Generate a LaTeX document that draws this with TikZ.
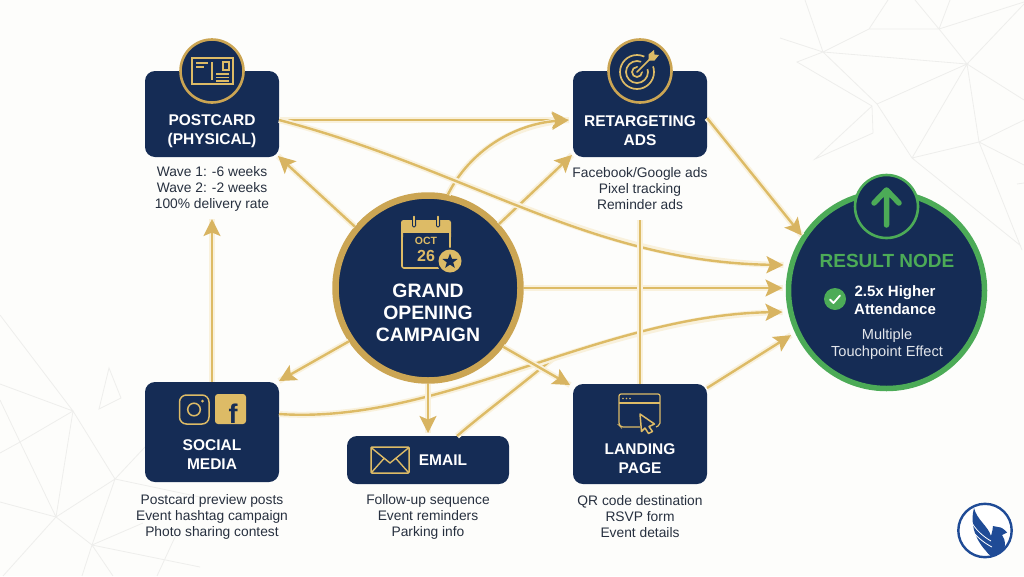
\documentclass[tikz,border=0pt]{standalone}
\usepackage{fontspec}
\setmainfont{Liberation Sans}
\usetikzlibrary{arrows.meta,calc}
\definecolor{navy}{HTML}{152C55}
\definecolor{gold}{HTML}{DDBB66}
\definecolor{goldh}{HTML}{D8B461}
\definecolor{goldd}{HTML}{CBA553}
\definecolor{glow}{HTML}{F9F1DC}
\definecolor{rgreen}{HTML}{4CAB57}
\definecolor{ink}{HTML}{27303F}
\definecolor{mesh}{HTML}{EEEEEC}
\definecolor{paper}{HTML}{FDFDFB}
\definecolor{logob}{HTML}{1F4B96}
\tikzset{
  x=1pt,y=-1pt,
  card/.style={draw=none,fill=navy,rounded corners=10pt,inner sep=0pt,outer sep=0pt},
  iconring/.style={circle,draw=goldd,line width=2.6pt,fill=navy,minimum size=63pt,inner sep=0pt},
  ttl/.style={text=white,font=\fontsize{15.5}{19}\selectfont\bfseries,align=center,inner sep=0pt},
  sub/.style={text=ink,font=\fontsize{13.8}{16}\selectfont,align=center,inner sep=0pt},
  flow/.style={draw=gold,line width=2.4pt,
     preaction={draw=glow,line width=6pt,arrows={-}},
     -{Stealth[length=17pt,width=17pt,inset=3.5pt,color=goldh]}},
  plain/.style={draw=gold,line width=2.4pt,preaction={draw=glow,line width=6pt}},
  meshl/.style={draw=mesh,line width=0.8pt},
  ic/.style={draw=gold,line width=1.2pt,fill=none},
}
\begin{document}
\begin{tikzpicture}
\useasboundingbox (0,0) rectangle (1024,576);
\fill[paper] (0,0) rectangle (1024,576);
% background mesh, top right
\draw[meshl] (805,0)--(823,52)--(869,29)--(888,0) (869,29)--(939,29)--(915,0) (939,29)--(950,0) (939,29)--(1024,2)
 (939,29)--(967,64)--(1024,4) (780,38)--(823,52)--(967,64)--(877,104)--(823,52)--(797,62)--(872,106)--(873,133)--(815,159)--(872,106)
 (877,104)--(912,158)--(967,64)--(979,142)--(912,158) (967,64)--(1024,100) (979,142)--(1024,120) (979,142)--(1024,165)
 (979,142)--(1022,250) (912,158)--(1021,246) (1017,184)--(1024,183);
% background mesh, lower left
\draw[meshl] (0,315)--(73,411)--(115,479)--(56,517)--(73,411)--(20,442)--(56,517)--(92,545)--(115,479)--(145,447)
 (0,384)--(73,411) (20,442)--(0,453) (0,400)--(20,442) (0,502)--(56,517)--(3,576) (92,545)--(82,576) (92,545)--(113,576)
 (115,479)--(200,497) (92,545)--(200,567) (92,545)--(143,523) (157,576)--(175,537)
 (109,368)--(121,398)--(99,409)--cycle;
% nodes
\node[card,minimum width=134pt,minimum height=86pt] (post) at (212,114) {};
\node[card,minimum width=134pt,minimum height=86pt] (ret) at (640,114) {};
\node[card,minimum width=134pt,minimum height=100pt] (soc) at (212,432) {};
\node[card,minimum width=162pt,minimum height=48pt] (mail) at (428,460) {};
\node[card,minimum width=134pt,minimum height=100pt] (land) at (640,434) {};
\node[circle,fill=navy,draw=goldd,line width=6.5pt,minimum size=185pt,inner sep=0pt,outer sep=3pt] (hub) at (428,288) {};
\node[circle,fill=navy,draw=rgreen,line width=5.5pt,minimum size=196pt,inner sep=0pt,outer sep=3pt] (res) at (886.5,290.5) {};
\node[iconring] (posticon) at (212,71) {};
\node[iconring] (reticon) at (640,71) {};
\node[circle,fill=navy,draw=rgreen,line width=2.6pt,minimum size=63pt,inner sep=0pt] (upicon) at (886.5,206.5) {};
% connectors
\draw[flow] (hub.140) -- ($(post.south east)+(-1,-1)$);
\draw[flow] (soc.north) -- ($(post.south)+(0,62)$);
\draw[flow] (post.east |- 0,120) -- ($(ret.west |- 0,120)+(-4,0)$);
\draw[flow] (hub.78) .. controls (470,150) and (515,124) .. ($(ret.west |- 0,120)+(-4,0)$);
\draw[flow] (hub.42) -- ($(ret.south west)+(-1,-2)$);
\draw[flow] (post.east |- 0,120) .. controls (470,170) and (590,262) .. ($(res.west |- 0,265)+(-2,0)$);
\draw[flow] (ret.east |- 0,118) -- ($(res.147)+(0,0)$);
\draw[flow] (hub.east) -- ($(res.west |- 0,288)+(-3,0)$);
\path (soc.east |- 0,414) .. controls (440,425) and (600,315) .. ($(res.west |- 0,312)+(-3,0)$) coordinate[pos=.56] (merge);
\draw[plain] (mail.north -| 457,0) .. controls (485,412) and (515,390) .. (merge);
\draw[flow] (soc.east |- 0,414) .. controls (440,425) and (600,315) .. ($(res.west |- 0,312)+(-3,0)$);
\draw[flow] (land.east |- 0,388) -- ($(res.205)+(-4,2)$);
\draw[flow] (hub.-38) -- ($(land.north west)+(-3,1)$);
\draw[flow] (hub.-146) -- ($(soc.north east)+(0,-1)$);
\draw[flow] (hub.south) -- ($(mail.north)+(0,-3)$);
\draw[plain] (land.north) -- ($(ret.south)+(0,63)$);
% texts
\node[ttl] (t1) at (212,131) {POSTCARD\\(PHYSICAL)};
\node[ttl] (t2) at (640,131) {RETARGETING\\ADS};
\node[ttl] (t3) at (212,454.5) {SOCIAL\\MEDIA};
\node[ttl] (t4) at (443,460) {EMAIL};
\node[ttl] (t5) at (640,458.5) {LANDING\\PAGE};
\node[sub] (s1) at (212,189) {Wave 1: -6 weeks\\Wave 2: -2 weeks\\100\% delivery rate};
\node[sub] (s2) at (640,189) {Facebook/Google ads\\Pixel tracking\\Reminder ads};
\node[sub] (s3) at (212,517) {Postcard preview posts\\Event hashtag campaign\\Photo sharing contest};
\node[sub] (s4) at (428,517) {Follow-up sequence\\Event reminders\\Parking info};
\node[sub] (s5) at (640,517) {QR code destination\\RSVP form\\Event details};
\node[text=white,font=\fontsize{19.4}{22}\selectfont\bfseries,align=center,inner sep=0pt] (t6) at (428,313) {GRAND\\OPENING\\CAMPAIGN};
\node[text=rgreen,font=\fontsize{19}{22}\selectfont\bfseries,inner sep=0pt] (t7) at (887,261) {RESULT NODE};
\node[text=white,font=\fontsize{15}{18}\selectfont\bfseries,align=center,inner sep=0pt] (t8) at (895,300) {2.5x Higher\\Attendance};
\node[text=white!88!navy,font=\fontsize{14.6}{17}\selectfont,align=center,inner sep=0pt] (t9) at (887,344.5) {Multiple\\Touchpoint Effect};
% check
\fill[rgreen] (835,299) circle (11);
\draw[white,line width=1.8pt,line cap=round,line join=round] (830,299.5)--(833.5,303)--(840,295.5);
% up arrow
\draw[rgreen,line width=5.5pt,line cap=round,line join=round] (886.5,225)--(886.5,191) (874,203)--(886.5,190)--(899,203);
% calendar
\draw[gold,line width=1.6pt,rounded corners=2pt] (402,226)--(402,268)--(444,268) (450,250)--(450,226);
\fill[gold,rounded corners=2.5pt] (401,220) rectangle (451,235);
\fill[navy] (403,233) rectangle (449,236);
\fill[gold] (401,233) rectangle (403,237) (449,233) rectangle (451,237);
\draw[gold,line width=2.4pt,line cap=round] (414,216)--(414,226) (438,216)--(438,226);
\draw[navy,line width=0.8pt,rounded corners=1.4pt] (412.4,215) rectangle (415.6,227) (436.4,215) rectangle (439.6,227);
\node[text=gold,font=\fontsize{10.5}{12}\selectfont\bfseries,inner sep=0pt] (oct) at (426,241) {OCT};
\node[text=gold,font=\fontsize{16}{18}\selectfont\bfseries,inner sep=0pt] (day) at (426,255.5) {26};
\fill[navy] (450,261) circle (13.5);
\fill[gold] (450,261) circle (11.5);
\fill[navy] (450,253.5)--(452,258.8)--(457.6,259)--(453.2,262.4)--(454.8,267.8)--(450,264.6)--(445.2,267.8)--(446.8,262.4)--(442.4,259)--(448,258.8)--cycle;
% postcard icon
\draw[ic] (192,58) rectangle (233,84);
\draw[ic] (212,62)--(212,80) (196,63)--(208,63) (196,67)--(204,67);
\draw[ic] (223,62) rectangle (229,70);
\draw[ic] (216,74)--(229,74) (216,77.5)--(229,77.5) (216,81)--(229,81);
% target icon
\draw[gold,line width=1.7pt] (637,72) circle (17);
\draw[gold,line width=1.7pt] (637,72) circle (11);
\draw[gold,line width=1.7pt] (637,72) circle (5);
\fill[navy] (636,70) -- (648,51) -- (660,63) -- (639,73) -- cycle;
\draw[gold,line width=1.6pt,line cap=round] (637,72)--(652,57);
\fill[gold] (648.5,60.5)--(648.5,54.5)--(654,50)--(654.5,54.5)--(659,55)--(654.5,60.5)--cycle;
% instagram
\draw[gold,line width=1.5pt,rounded corners=7pt] (179.5,395) rectangle (209,424);
\draw[gold,line width=1.5pt] (194,409.5) circle (6.3);
\fill[gold] (202.5,401) circle (1.5);
% facebook
\fill[gold,rounded corners=3pt] (215,394) rectangle (246,424);
\node[text=navy,font=\fontsize{27}{27}\selectfont\bfseries,anchor=base,inner sep=0pt] (fb) at (233,423.5) {f};
% envelope
\draw[gold,line width=1.5pt,rounded corners=1pt] (371,447) rectangle (409,473);
\draw[gold,line width=1.4pt,line join=round] (371,447.5)--(390,463)--(409,447.5) (371.5,472.5)--(384,458.5) (408.5,472.5)--(396,458.5);
% browser
\draw[gold,line width=1.2pt,rounded corners=2pt] (640,427)--(621,427)--(619,425)--(619,394)--(660,394)--(660,425)--(656,427);
\draw[gold,line width=1.2pt] (619,403)--(660,403);
\fill[gold] (623,398.5) circle (0.9) (626.5,398.5) circle (0.9) (630,398.5) circle (0.9);
\draw[gold,line width=1.5pt,line join=round,fill=navy] (640,414)--(654.5,424)--(649,426.5)--(652.5,431.5)--(648.5,433.5)--(645,428)--(641.5,431.5)--cycle;
% logo
\draw[logob,line width=2.4pt,fill=white] (985,530.5) circle (26.7);
\begin{scope}
\clip (985,530.5) circle (26.7);
\fill[logob] (974,508) .. controls (970,522) and (974,538) .. (986,551)
  .. controls (989,555) and (992,558) .. (996,558) -- (1001,557) .. controls (1006,549) and (1006,540) .. (1002,535)
  -- (1007,532.5) .. controls (1004,529) and (1001,527) .. (998,527) -- (993,526) .. controls (993,529) and (992,532) .. (991,536)
  .. controls (988,526) and (977,520) .. (974,508) -- cycle;
\end{scope}
\draw[white,line width=0.8pt] (970.5,520) .. controls (975,530) and (984,537) .. (991,541)
  (973,532) .. controls (979,539) and (986,544) .. (992,547);
\end{tikzpicture}
\end{document}
